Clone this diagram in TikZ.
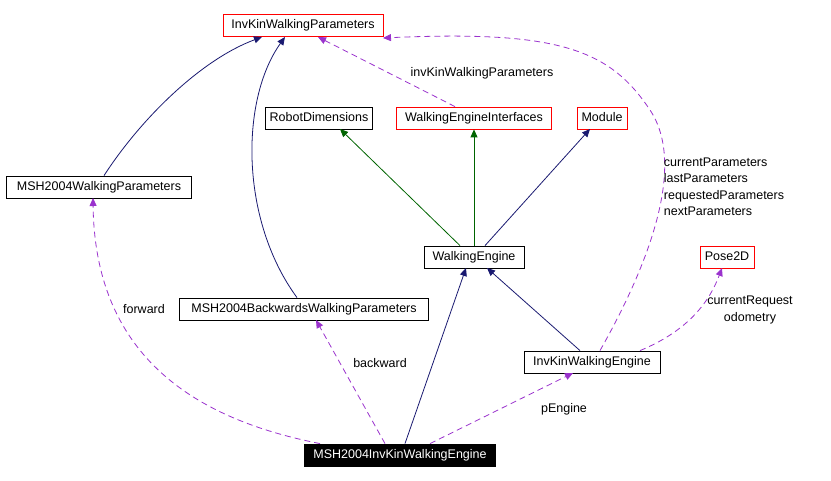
\documentclass[tikz,border=0pt]{standalone}
\usepackage{fontspec}
\setmainfont{Liberation Sans}
\usetikzlibrary{arrows.meta}
\definecolor{navy}{RGB}{25,25,112}
\definecolor{dgreen}{RGB}{0,100,0}
\definecolor{purp}{RGB}{154,50,205}
\begin{document}
\begin{tikzpicture}[x=1pt,y=-1pt,line width=0.8pt,
  every node/.style={font=\fontsize{12.5}{16.5}\selectfont},
  box/.style={draw=black,fill=white,minimum height=22pt,inner xsep=4pt,inner ysep=2pt,text height=9pt,text depth=2.5pt},
  rbox/.style={box,draw=red},
  inh/.style={draw=navy,-{Triangle[length=8pt,width=7pt]}},
  ginh/.style={draw=dgreen,-{Triangle[length=8pt,width=7pt]}},
  use/.style={draw=purp,dash pattern=on 6pt off 4pt,-{Triangle[length=8pt,width=7pt]}},
  lbl/.style={align=center,inner sep=1pt}]
\useasboundingbox (0,0) rectangle (831,481);
\node[rbox,minimum width=160pt] (ikwp) at (303,25) {InvKinWalkingParameters};
\node[box,minimum width=106pt] (rd) at (319,118) {RobotDimensions};
\node[rbox,minimum width=155pt] (wei) at (474,118) {WalkingEngineInterfaces};
\node[rbox,minimum width=50pt] (mod) at (602,118) {Module};
\node[box,minimum width=185pt] (mwp) at (99,187) {MSH2004WalkingParameters};
\node[box,minimum width=100pt] (we) at (474,257) {WalkingEngine};
\node[rbox,minimum width=54pt] (pose) at (727,257) {Pose2D};
\node[box,minimum width=249pt] (mbwp) at (304,309) {MSH2004BackwardsWalkingParameters};
\node[box,minimum width=136pt] (ikwe) at (592,362) {InvKinWalkingEngine};
\node[box,fill=black,text=white,minimum width=191pt] (mike) at (400,455) {MSH2004InvKinWalkingEngine};

\draw[inh] (mwp.north) ++(5,0) .. controls (140,120) and (200,60) .. (262,37);
\draw[inh] (mbwp.north) ++(-7,0) .. controls (240,220) and (240,100) .. (285,37);
\draw[ginh] (we.north) ++(-14,0) -- (340,129);
\draw[ginh] (we.north) -- (wei.south);
\draw[inh] (we.north) ++(11,0) -- (590,129);
\draw[inh] (mike.north) ++(5,0) -- (466,268);
\draw[inh] (ikwe.north) ++(-12,0) -- (487,268);

\draw[use] (wei.north) ++(-19,0) -- (318,37);
\node[lbl] at (482,73) {invKinWalkingParameters};
\draw[use] (ikwe.north) ++(8,0) .. controls (640,280) and (690,170) .. (650,110)
  .. controls (610,50) and (560,30) .. (383,38);
\node[lbl,align=left] at (724,187) {currentParameters\\lastParameters\\requestedParameters\\nextParameters};
\draw[use] (ikwe.north) ++(48,0) .. controls (690,330) and (710,300) .. (722,268);
\node[lbl] at (750,310) {currentRequest\\odometry};
\draw[use] (mike.north) ++(-80,0) .. controls (200,420) and (95,360) .. (93,198);
\node[lbl] at (144,309) {forward};
\draw[use] (mike.north) ++(-15,0) -- (316,320);
\node[lbl] at (380,363) {backward};
\draw[use] (mike.north) ++(30,0) -- (573,373);
\node[lbl] at (564,409) {pEngine};
\end{tikzpicture}
\end{document}
